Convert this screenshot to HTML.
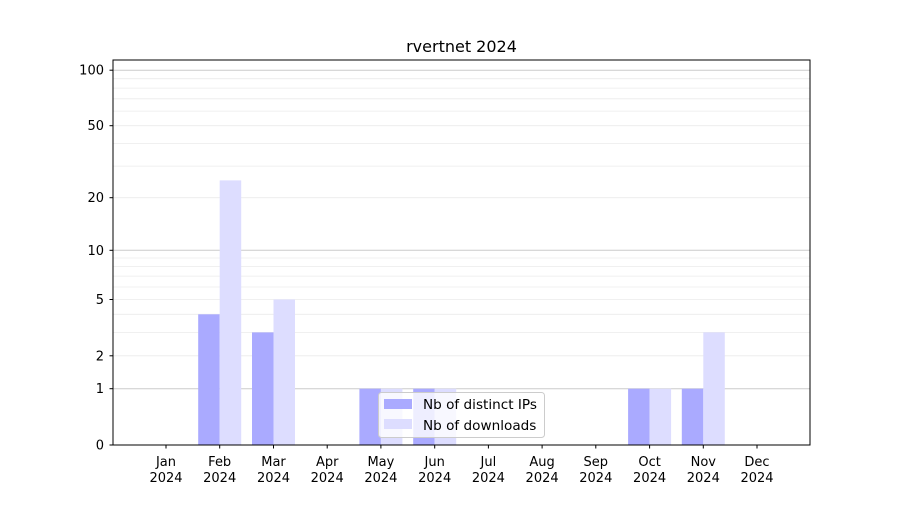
<!DOCTYPE html>
<html><head><meta charset="utf-8"><style>
body{margin:0;background:#fff}
svg text{font-family:"DejaVu Sans","Liberation Sans",sans-serif;fill:#000}
</style></head><body>
<svg width="900" height="500" xmlns="http://www.w3.org/2000/svg">
<rect width="900" height="500" fill="#fff"/>
<g stroke="#ebebeb" stroke-width="0.8">
<line x1="113" x2="810" y1="355.8" y2="355.8"/>
<line x1="113" x2="810" y1="332.4" y2="332.4"/>
<line x1="113" x2="810" y1="314.3" y2="314.3"/>
<line x1="113" x2="810" y1="299.5" y2="299.5"/>
<line x1="113" x2="810" y1="287" y2="287"/>
<line x1="113" x2="810" y1="276.1" y2="276.1"/>
<line x1="113" x2="810" y1="266.5" y2="266.5"/>
<line x1="113" x2="810" y1="258" y2="258"/>
<line x1="113" x2="810" y1="197.7" y2="197.7"/>
<line x1="113" x2="810" y1="166.1" y2="166.1"/>
<line x1="113" x2="810" y1="143.4" y2="143.4"/>
<line x1="113" x2="810" y1="125.7" y2="125.7"/>
<line x1="113" x2="810" y1="111.1" y2="111.1"/>
<line x1="113" x2="810" y1="98.8" y2="98.8"/>
<line x1="113" x2="810" y1="88.1" y2="88.1"/>
<line x1="113" x2="810" y1="78.7" y2="78.7"/>
</g>
<g stroke="#cccccc" stroke-width="1">
<line x1="113" x2="810" y1="388.7" y2="388.7"/>
<line x1="113" x2="810" y1="250.3" y2="250.3"/>
<line x1="113" x2="810" y1="70.2" y2="70.2"/>
</g>
<g fill="#aaaaff">
<rect x="198.2" y="314.3" width="21.5" height="130.7"/>
<rect x="252" y="332.4" width="21.5" height="112.6"/>
<rect x="359.4" y="388.7" width="21.5" height="56.3"/>
<rect x="413.2" y="388.7" width="21.5" height="56.3"/>
<rect x="628.1" y="388.7" width="21.5" height="56.3"/>
<rect x="681.8" y="388.7" width="21.5" height="56.3"/>
</g>
<g fill="#ddddff">
<rect x="219.7" y="180.4" width="21.5" height="264.6"/>
<rect x="273.5" y="299.5" width="21.5" height="145.5"/>
<rect x="380.9" y="388.7" width="21.5" height="56.3"/>
<rect x="434.7" y="388.7" width="21.5" height="56.3"/>
<rect x="649.6" y="388.7" width="21.5" height="56.3"/>
<rect x="703.3" y="332.4" width="21.5" height="112.6"/>
</g>
<rect x="113" y="60" width="697" height="385" fill="none" stroke="#000" stroke-width="1"/>
<g stroke="#000" stroke-width="1">
<line x1="109.5" x2="113" y1="445" y2="445"/>
<line x1="109.5" x2="113" y1="388.7" y2="388.7"/>
<line x1="109.5" x2="113" y1="355.8" y2="355.8"/>
<line x1="109.5" x2="113" y1="299.5" y2="299.5"/>
<line x1="109.5" x2="113" y1="250.3" y2="250.3"/>
<line x1="109.5" x2="113" y1="197.7" y2="197.7"/>
<line x1="109.5" x2="113" y1="125.7" y2="125.7"/>
<line x1="109.5" x2="113" y1="70.2" y2="70.2"/>
</g>
<g font-size="13" text-anchor="end">
<text x="104" y="449.5">0</text>
<text x="104" y="393.2">1</text>
<text x="104" y="360.3">2</text>
<text x="104" y="304">5</text>
<text x="104" y="254.8">10</text>
<text x="104" y="202.2">20</text>
<text x="104" y="130.2">50</text>
<text x="104" y="74.7">100</text>
</g>
<g stroke="#000" stroke-width="1">
<line x1="166" x2="166" y1="445" y2="448.5"/>
<line x1="219.7" x2="219.7" y1="445" y2="448.5"/>
<line x1="273.5" x2="273.5" y1="445" y2="448.5"/>
<line x1="327.2" x2="327.2" y1="445" y2="448.5"/>
<line x1="380.9" x2="380.9" y1="445" y2="448.5"/>
<line x1="434.7" x2="434.7" y1="445" y2="448.5"/>
<line x1="488.4" x2="488.4" y1="445" y2="448.5"/>
<line x1="542.1" x2="542.1" y1="445" y2="448.5"/>
<line x1="595.8" x2="595.8" y1="445" y2="448.5"/>
<line x1="649.6" x2="649.6" y1="445" y2="448.5"/>
<line x1="703.3" x2="703.3" y1="445" y2="448.5"/>
<line x1="757" x2="757" y1="445" y2="448.5"/>
</g>
<g font-size="13" text-anchor="middle">
<text x="166" y="466">Jan</text><text x="166" y="482">2024</text>
<text x="219.7" y="466">Feb</text><text x="219.7" y="482">2024</text>
<text x="273.5" y="466">Mar</text><text x="273.5" y="482">2024</text>
<text x="327.2" y="466">Apr</text><text x="327.2" y="482">2024</text>
<text x="380.9" y="466">May</text><text x="380.9" y="482">2024</text>
<text x="434.7" y="466">Jun</text><text x="434.7" y="482">2024</text>
<text x="488.4" y="466">Jul</text><text x="488.4" y="482">2024</text>
<text x="542.1" y="466">Aug</text><text x="542.1" y="482">2024</text>
<text x="595.8" y="466">Sep</text><text x="595.8" y="482">2024</text>
<text x="649.6" y="466">Oct</text><text x="649.6" y="482">2024</text>
<text x="703.3" y="466">Nov</text><text x="703.3" y="482">2024</text>
<text x="757" y="466">Dec</text><text x="757" y="482">2024</text>
</g>
<text x="461.5" y="52" font-size="16" text-anchor="middle">rvertnet 2024</text>
<rect x="378.5" y="392.5" width="166" height="45" rx="3" fill="#fff" fill-opacity="0.8" stroke="#cccccc"/>
<rect x="384" y="399" width="28" height="10" fill="#aaaaff"/>
<rect x="384" y="419" width="28" height="10" fill="#ddddff"/>
<text x="423" y="409" font-size="13.6">Nb of distinct IPs</text>
<text x="423" y="430" font-size="13.6">Nb of downloads</text>
</svg>
</body></html>
